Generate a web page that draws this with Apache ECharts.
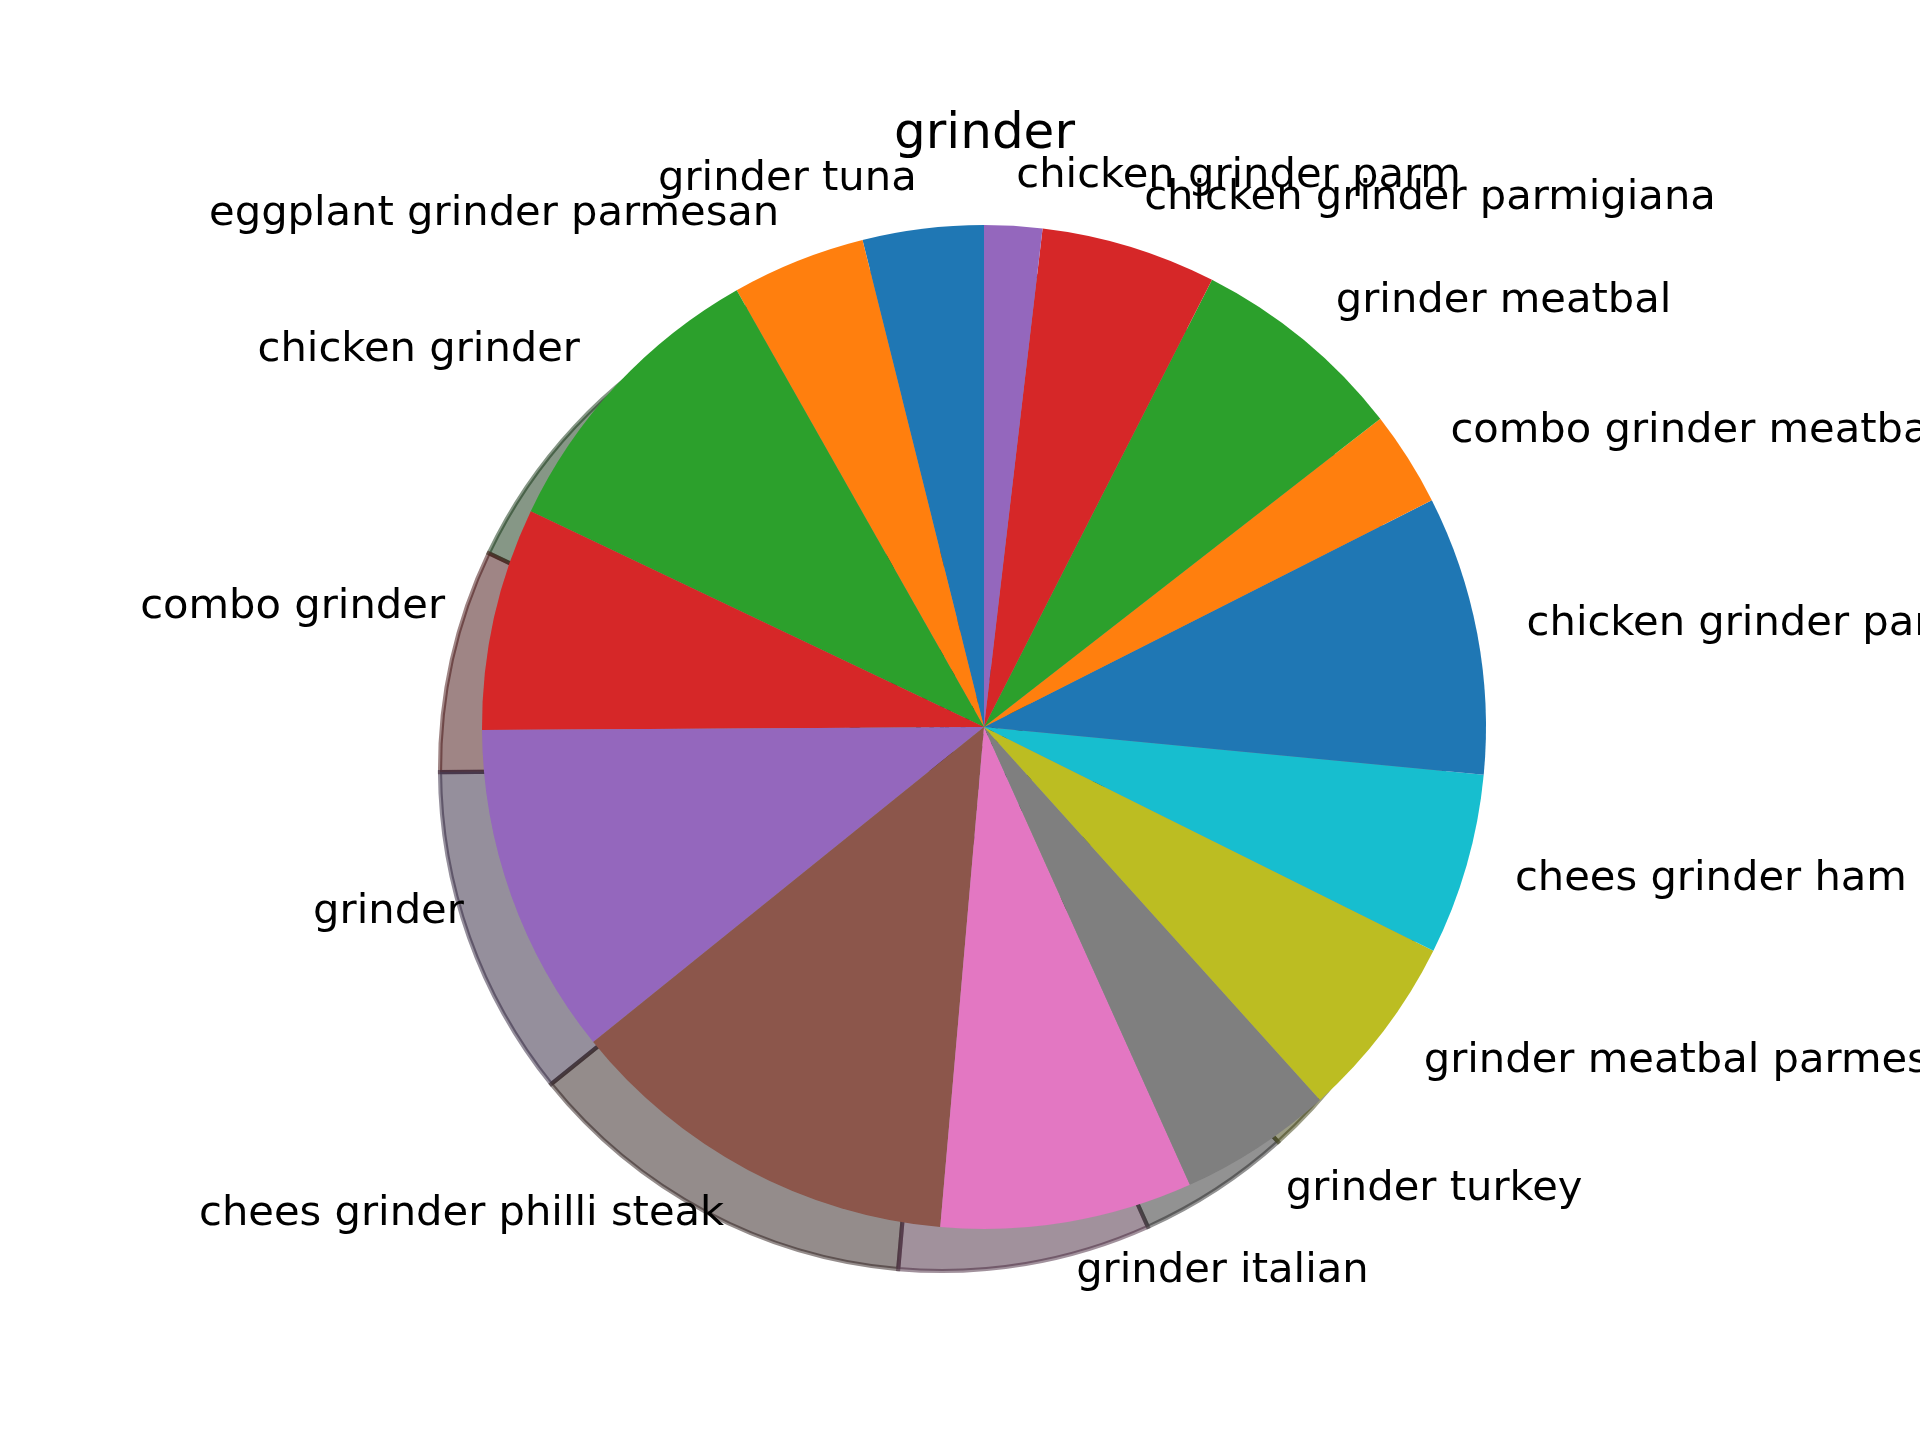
<!DOCTYPE html>
<html>
<head>
<meta charset="utf-8">
<script src="https://cdn.jsdelivr.net/npm/echarts@6/dist/echarts.min.js"></script>
<style>
    body { margin: 0; background: #fff; }
    #main { width: 1920px; height: 1440px; }
</style>
</head>
<body>
<div id="main"></div>
<script>
// slices, counter-clockwise from 12 o'clock
var names = [
    'grinder tuna',
    'eggplant grinder parmesan',
    'chicken grinder',
    'combo grinder',
    'grinder',
    'chees grinder philli steak',
    'grinder italian',
    'grinder turkey',
    'grinder meatbal parmesan',
    'chees grinder ham',
    'chicken grinder parmesan',
    'combo grinder meatbal',
    'grinder meatbal',
    'chicken grinder parmigiana',
    'chicken grinder parm'
];
var values = [14.0, 15.5, 35.0, 25.8, 38.5, 46.1, 29.2, 17.8, 21.5, 21.0, 32.3, 11.0, 25.1, 20.3, 6.7];
var colors = ['#1f77b4', '#ff7f0e', '#2ca02c', '#d62728', '#9467bd',
              '#8c564b', '#e377c2', '#7f7f7f', '#bcbd22', '#17becf'];

// matplotlib style shadow: 0.3 * face colour, half transparent
function shade(hex) {
    var r = parseInt(hex.substr(1, 2), 16) * 0.3;
    var g = parseInt(hex.substr(3, 2), 16) * 0.3;
    var b = parseInt(hex.substr(5, 2), 16) * 0.3;
    return 'rgb(' + Math.round(r) + ',' + Math.round(g) + ',' + Math.round(b) + ')';
}

var cx = 984, cy = 727, R = 502;

var mainData = [];
var shadowData = [];
for (var i = 0; i < names.length; i++) {
    var c = colors[i % colors.length];
    mainData.push({ name: names[i], value: values[i], itemStyle: { color: c } });
    shadowData.push({ name: names[i], value: values[i], itemStyle: { color: shade(c), borderColor: shade(c) } });
}

var myChart = echarts.init(document.getElementById('main'));

var option = {
    animation: false,
    title: {
        text: 'grinder',
        left: 894,
        top: 110,
        padding: 0,
        textStyle: {
            fontFamily: 'DejaVu Sans',
            fontSize: 50,
            fontWeight: 'normal',
            color: '#000'
        }
    },
    series: [
        {
            // shadow
            type: 'pie',
            silent: true,
            center: [cx - 42, cy + 42],
            radius: R,
            startAngle: 90,
            clockwise: false,
            avoidLabelOverlap: false,
            label: { show: false },
            labelLine: { show: false },
            itemStyle: {
                opacity: 0.5,
                borderWidth: 4.17,
                borderJoin: 'miter'
            },
            emphasis: { disabled: true },
            data: shadowData
        },
        {
            type: 'pie',
            silent: true,
            center: [cx, cy],
            radius: R,
            startAngle: 90,
            clockwise: false,
            avoidLabelOverlap: false,
            itemStyle: { borderWidth: 0 },
            label: {
                show: true,
                position: 'outside',
                alignTo: 'none',
                distanceToLabelLine: 0,
                overflow: 'none',
                fontFamily: 'DejaVu Sans',
                fontSize: 41.67,
                color: '#000'
            },
            labelLine: { show: false, length: 50.2, length2: 0 },
            labelLayout: { hideOverlap: false },
            emphasis: { disabled: true },
            data: mainData
        }
    ]
};
myChart.setOption(option);
</script>
</body>
</html>
